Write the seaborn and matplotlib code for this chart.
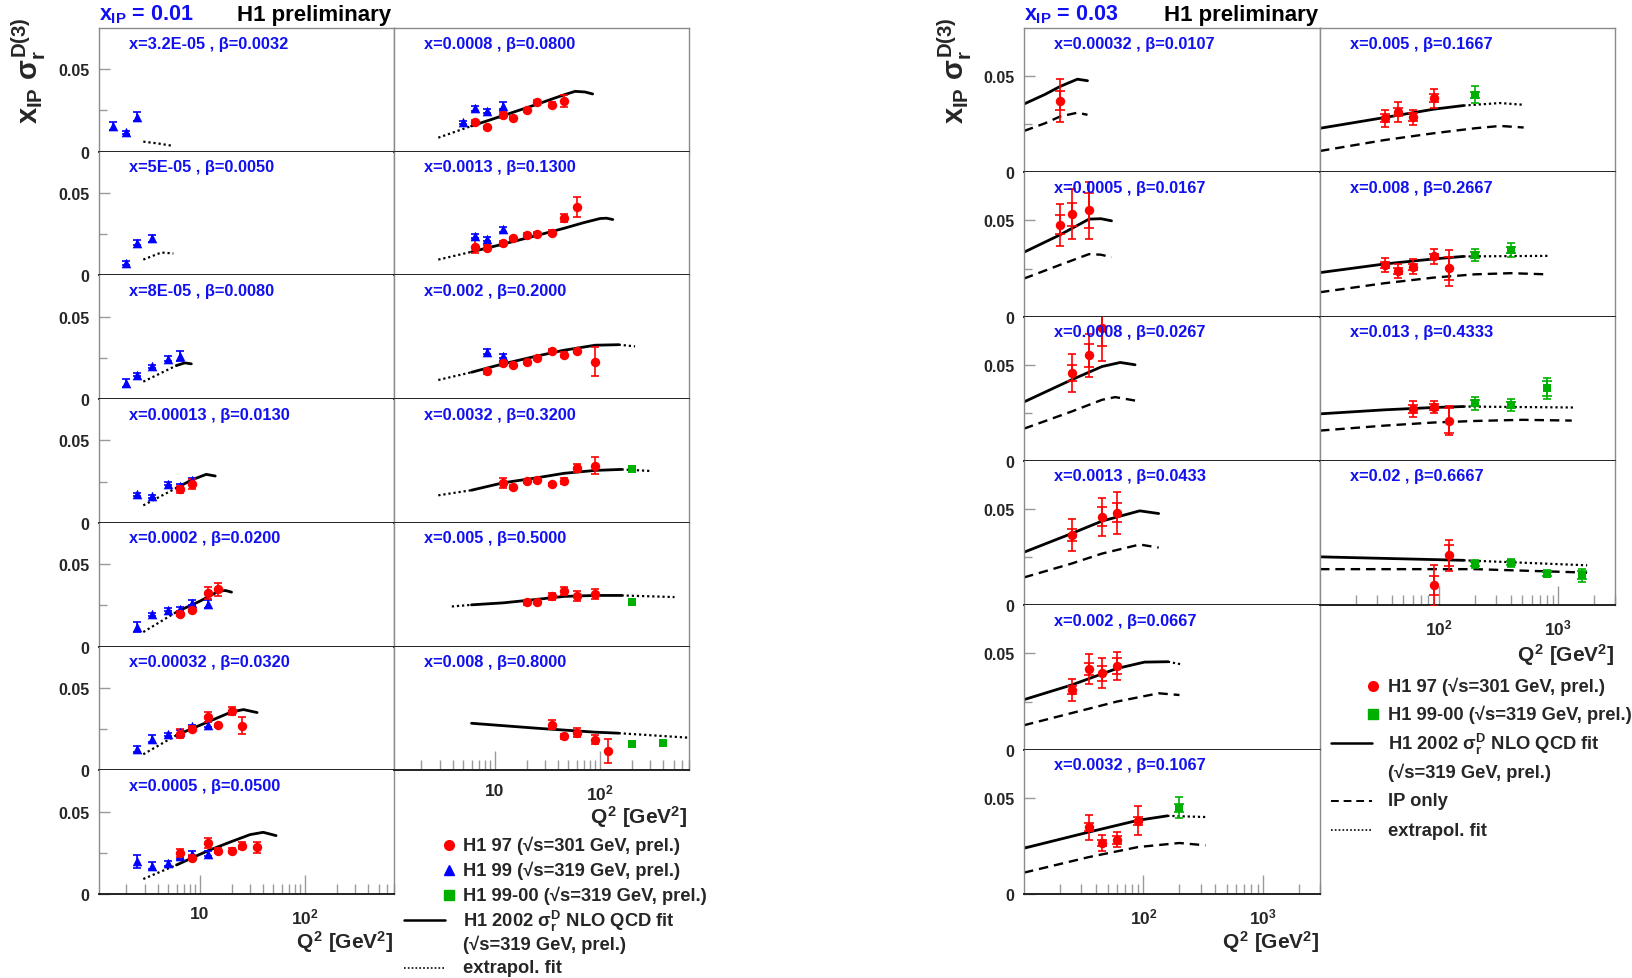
import numpy as np
import pandas as pd
import matplotlib
matplotlib.use("Agg")
import matplotlib.pyplot as plt
from matplotlib.lines import Line2D
from matplotlib.ticker import LogLocator, NullFormatter, NullLocator, FixedLocator
import seaborn as sns

# ---------------- data: left grid, x_IP = 0.01 ----------------
# points: (Q2, value, error) ; curves: (Q2, value)
L1A_LABEL = "x=3.2E-05 , β=0.0032"
L1A_H99 = [(1.5, 0.0156, 0.0025), (2.0, 0.0117, 0.0010), (2.5, 0.0213, 0.0025)]
L1A_EXT = [(2.9, 0.0061), (4.0, 0.0050), (5.6, 0.0035)]

L1B_LABEL = "x=0.0008 , β=0.0800"
L1B_H99 = [(5.0, 0.0178, 0.0010), (6.5, 0.0263, 0.0015), (8.5, 0.0247, 0.0010), (12, 0.0279, 0.0020)]
L1B_H97 = [(6.5, 0.0180, 0.0015), (8.5, 0.0148, 0.0010), (12, 0.0223, 0.0020), (15, 0.0206, 0.0010),
           (20, 0.0253, 0.0010), (25, 0.0302, 0.0010), (35, 0.0285, 0.0015), (45, 0.0308, 0.0035)]
L1B_EXT = [(2.9, 0.0085), (6.0, 0.0156)]
L1B_FIT = [(6.0, 0.0156), (12, 0.0219), (25, 0.0287), (45, 0.0344), (58, 0.0366), (72, 0.0362), (85, 0.0350)]

L2A_LABEL = "x=5E-05 , β=0.0050"
L2A_H99 = [(2.0, 0.0076, 0.0010), (2.5, 0.0198, 0.0015), (3.5, 0.0225, 0.0020)]
L2A_EXT = [(2.9, 0.0096), (4.3, 0.0139), (5.6, 0.0133)]

L2B_LABEL = "x=0.0013 , β=0.1300"
L2B_H99 = [(6.5, 0.0239, 0.0010), (8.5, 0.0220, 0.0010), (12, 0.0280, 0.0015)]
L2B_H97 = [(6.5, 0.0173, 0.0040), (8.5, 0.0169, 0.0015), (12, 0.0194, 0.0015), (15, 0.0224, 0.0010),
           (20, 0.0245, 0.0010), (25, 0.0253, 0.0010), (35, 0.0259, 0.0015), (45, 0.0347, 0.0025),
           (60, 0.0414, 0.0060)]
L2B_EXT = [(2.9, 0.0096), (6.0, 0.0143)]
L2B_FIT = [(6.0, 0.0143), (12, 0.0190), (25, 0.0242), (45, 0.0285), (70, 0.0320), (100, 0.0345),
           (115, 0.0347), (132, 0.0339)]

L3A_LABEL = "x=8E-05 , β=0.0080"
L3A_H99 = [(2.0, 0.0096, 0.0025), (2.5, 0.0149, 0.0010), (3.5, 0.0200, 0.0010), (5.0, 0.0245, 0.0015),
           (6.5, 0.0261, 0.0030)]
L3A_EXT = [(2.9, 0.0106), (6.0, 0.0204)]
L3A_FIT = [(6.0, 0.0204), (7.2, 0.0220), (8.3, 0.0214)]

L3B_LABEL = "x=0.002 , β=0.2000"
L3B_H99 = [(8.5, 0.0286, 0.0015), (12, 0.0261, 0.0010)]
L3B_H97 = [(8.5, 0.0169, 0.0015), (12, 0.0218, 0.0015), (15, 0.0208, 0.0010), (20, 0.0224, 0.0010),
           (25, 0.0249, 0.0010), (35, 0.0292, 0.0010), (45, 0.0269, 0.0015), (60, 0.0292, 0.0015),
           (90, 0.0227, 0.0087)]
L3B_EXT = [(2.9, 0.0116), (6.0, 0.0163)]
L3B_FIT = [(6.0, 0.0163), (12, 0.0214), (25, 0.0261), (45, 0.0296), (90, 0.0327), (150, 0.0330)]
L3B_EXT_HI = [(150, 0.0330), (215, 0.0320)]

L4A_LABEL = "x=0.00013 , β=0.0130"
L4A_H99 = [(2.5, 0.0173, 0.0010), (3.5, 0.0161, 0.0010), (5.0, 0.0237, 0.0010), (6.5, 0.0224, 0.0010),
           (8.5, 0.0259, 0.0015)]
L4A_H97 = [(6.5, 0.0204, 0.0020), (8.5, 0.0235, 0.0030)]
L4A_EXT = [(2.9, 0.0106), (6.0, 0.0212)]
L4A_FIT = [(6.0, 0.0212), (8.5, 0.0262), (11.5, 0.0294), (14, 0.0284)]

L4B_LABEL = "x=0.0032 , β=0.3200"
L4B_H97 = [(12, 0.0243, 0.0030), (15, 0.0218, 0.0010), (20, 0.0253, 0.0010), (25, 0.0257, 0.0010),
           (35, 0.0233, 0.0010), (45, 0.0253, 0.0020), (60, 0.0331, 0.0025), (90, 0.0347, 0.0050)]
L4B_H9900 = [(200, 0.0327, 0.0015)]
L4B_EXT = [(2.9, 0.0167), (6.0, 0.0198)]
L4B_FIT = [(6.0, 0.0198), (12, 0.0243), (25, 0.0273), (45, 0.0300), (90, 0.0318), (160, 0.0324)]
L4B_EXT_HI = [(160, 0.0324), (313, 0.0314)]

L5A_LABEL = "x=0.0002 , β=0.0200"
L5A_H99 = [(2.5, 0.0118, 0.0030), (3.5, 0.0196, 0.0010), (5.0, 0.0224, 0.0010), (6.5, 0.0227, 0.0010),
           (8.5, 0.0265, 0.0015), (12, 0.0259, 0.0025)]
L5A_H97 = [(6.5, 0.0200, 0.0015), (8.5, 0.0222, 0.0015), (12, 0.0324, 0.0035), (15, 0.0347, 0.0040)]
L5A_EXT = [(2.9, 0.0088), (6.0, 0.0210)]
L5A_FIT = [(6.0, 0.0210), (10, 0.0275), (15, 0.0335), (17.5, 0.0340), (20, 0.0330)]

L5B_LABEL = "x=0.005 , β=0.5000"
L5B_H97 = [(20, 0.0269, 0.0015), (25, 0.0269, 0.0010), (35, 0.0304, 0.0020), (45, 0.0335, 0.0025),
           (60, 0.0304, 0.0030), (90, 0.0320, 0.0030)]
L5B_H9900 = [(200, 0.0269, 0.0015)]
L5B_EXT = [(3.9, 0.0243), (6.0, 0.0253)]
L5B_FIT = [(6.0, 0.0253), (12, 0.0265), (25, 0.0286), (45, 0.0304), (90, 0.0310), (160, 0.0310)]
L5B_EXT_HI = [(160, 0.0310), (510, 0.0300)]

L6A_LABEL = "x=0.00032 , β=0.0320"
L6A_H99 = [(2.5, 0.0128, 0.0020), (3.5, 0.0192, 0.0020), (5.0, 0.0219, 0.0010), (6.5, 0.0233, 0.0010),
           (8.5, 0.0267, 0.0010), (12, 0.0277, 0.0015)]
L6A_H97 = [(6.5, 0.0223, 0.0030), (8.5, 0.0253, 0.0015), (12, 0.0324, 0.0030), (15, 0.0273, 0.0010),
           (20, 0.0358, 0.0025), (25, 0.0271, 0.0050)]
L6A_EXT = [(2.9, 0.0097), (6.0, 0.0213)]
L6A_FIT = [(6.0, 0.0213), (12, 0.0294), (20, 0.0354), (26, 0.0368), (35, 0.0350)]

L6B_LABEL = "x=0.008 , β=0.8000"
L6B_H97 = [(35, 0.0277, 0.0025), (45, 0.0206, 0.0015), (60, 0.0229, 0.0025), (90, 0.0186, 0.0025),
           (120, 0.0117, 0.0070)]
L6B_H9900 = [(200, 0.0162, 0.0010), (400, 0.0168, 0.0010)]
L6B_FIT = [(6.0, 0.0285), (25, 0.0255), (90, 0.0231), (150, 0.0225)]
L6B_EXT_HI = [(150, 0.0225), (680, 0.0198)]

L7A_LABEL = "x=0.0005 , β=0.0500"
L7A_H99 = [(2.5, 0.0198, 0.0040), (3.5, 0.0172, 0.0020), (5.0, 0.0186, 0.0015), (6.5, 0.0229, 0.0015),
           (8.5, 0.0243, 0.0015), (12, 0.0243, 0.0015)]
L7A_H97 = [(6.5, 0.0247, 0.0025), (8.5, 0.0219, 0.0015), (12, 0.0310, 0.0030), (15, 0.0263, 0.0015),
           (20, 0.0263, 0.0015), (25, 0.0294, 0.0020), (35, 0.0283, 0.0035)]
L7A_EXT = [(2.9, 0.0091), (6.0, 0.0176)]
L7A_FIT = [(6.0, 0.0176), (12, 0.0263), (20, 0.0318), (30, 0.0360), (40, 0.0374), (53, 0.0354)]

# ---------------- data: right grid, x_IP = 0.03 ----------------
# points: (Q2, value, total error, stat error)
R1A_LABEL = "x=0.00032 , β=0.0107"
R1A_H97 = [(20, 0.0373, 0.0110, 0.0050)]
R1A_FIT = [(10, 0.0355), (15, 0.0405), (20, 0.0446), (28, 0.0484), (34, 0.0476)]
R1A_POM = [(10, 0.0215), (15, 0.0255), (20, 0.0290), (28, 0.0310), (34, 0.0299)]

R1B_LABEL = "x=0.005 , β=0.1667"
R1B_H97 = [(35, 0.0281, 0.0045, 0.0020), (45, 0.0313, 0.0050, 0.0020), (60, 0.0286, 0.0040, 0.0020),
           (90, 0.0385, 0.0050, 0.0020)]
R1B_H9900 = [(200, 0.0403, 0.0045, 0.0015)]
R1B_FIT = [(10, 0.0229), (35, 0.0285), (90, 0.0328), (160, 0.0347)]
R1B_EXT_HI = [(160, 0.0347), (325, 0.0360), (513, 0.0351)]
R1B_POM = [(10, 0.0111), (35, 0.0168), (90, 0.0203), (200, 0.0229), (325, 0.0241), (513, 0.0233)]

R2A_LABEL = "x=0.0005 , β=0.0167"
R2A_H97 = [(20, 0.0477, 0.0110, 0.0050), (25, 0.0533, 0.0130, 0.0060), (35, 0.0552, 0.0150, 0.0090)]
R2A_FIT = [(10, 0.0335), (20, 0.0425), (35, 0.0507), (44, 0.0509), (54, 0.0498)]
R2A_POM = [(10, 0.0198), (20, 0.0269), (35, 0.0325), (44, 0.0322), (54, 0.0309)]

R2B_LABEL = "x=0.008 , β=0.2667"
R2B_H97 = [(35, 0.0269, 0.0035, 0.0015), (45, 0.0238, 0.0035, 0.0015), (60, 0.0260, 0.0040, 0.0015),
           (90, 0.0313, 0.0040, 0.0015), (120, 0.0252, 0.0095, 0.0060)]
R2B_H9900 = [(200, 0.0321, 0.0030, 0.0015), (400, 0.0347, 0.0035, 0.0015)]
R2B_FIT = [(10, 0.0229), (35, 0.0274), (90, 0.0300), (160, 0.0313)]
R2B_EXT_HI = [(160, 0.0313), (815, 0.0316)]
R2B_POM = [(10, 0.0127), (35, 0.0174), (90, 0.0203), (200, 0.0220), (400, 0.0226), (800, 0.0220)]

R3A_LABEL = "x=0.0008 , β=0.0267"
R3A_H97 = [(25, 0.0457, 0.0100, 0.0040), (35, 0.0549, 0.0110, 0.0060), (45, 0.0690, 0.0170, 0.0095)]
R3A_FIT = [(10, 0.0307), (25, 0.0422), (45, 0.0491), (64, 0.0512), (85, 0.0500)]
R3A_POM = [(10, 0.0168), (25, 0.0257), (45, 0.0318), (58, 0.0332), (85, 0.0314)]

R3B_LABEL = "x=0.013 , β=0.4333"
R3B_H97 = [(60, 0.0271, 0.0040, 0.0020), (90, 0.0280, 0.0030, 0.0015), (120, 0.0210, 0.0075, 0.0065)]
R3B_H9900 = [(200, 0.0300, 0.0035, 0.0015), (400, 0.0292, 0.0030, 0.0015), (800, 0.0378, 0.0055, 0.0040)]
R3B_FIT = [(10, 0.0245), (35, 0.0266), (90, 0.0278), (160, 0.0283)]
R3B_EXT_HI = [(160, 0.0283), (1350, 0.0278)]
R3B_POM = [(10, 0.0158), (35, 0.0184), (90, 0.0200), (200, 0.0208), (500, 0.0214), (1300, 0.0210)]

R4A_LABEL = "x=0.0013 , β=0.0433"
R4A_H97 = [(25, 0.0365, 0.0085, 0.0030), (45, 0.0460, 0.0100, 0.0050), (60, 0.0481, 0.0110, 0.0050)]
R4A_FIT = [(10, 0.0276), (25, 0.0373), (45, 0.0438), (93, 0.0491), (134, 0.0477)]
R4A_POM = [(10, 0.0145), (25, 0.0217), (45, 0.0269), (93, 0.0316), (134, 0.0300)]

R4B_LABEL = "x=0.02 , β=0.6667"
R4B_H97 = [(90, 0.0104, 0.0105, 0.0050), (120, 0.0260, 0.0080, 0.0055)]
R4B_H9900 = [(200, 0.0214, 0.0020, 0.0010), (400, 0.0220, 0.0020, 0.0010), (800, 0.0165, 0.0020, 0.0010),
             (1600, 0.0156, 0.0035, 0.0020)]
R4B_FIT = [(10, 0.0252), (160, 0.0234)]
R4B_EXT_HI = [(160, 0.0234), (1750, 0.0208)]
R4B_POM = [(10, 0.0188), (200, 0.0188), (1750, 0.0170)]

R5A_LABEL = "x=0.002 , β=0.0667"
R5A_H97 = [(25, 0.0310, 0.0055, 0.0020), (35, 0.0419, 0.0080, 0.0030), (45, 0.0397, 0.0078, 0.0040),
           (60, 0.0434, 0.0073, 0.0040)]
R5A_FIT = [(10, 0.0260), (25, 0.0336), (60, 0.0422), (102, 0.0455), (160, 0.0457)]
R5A_EXT_HI = [(160, 0.0457), (209, 0.0443)]
R5A_POM = [(10, 0.0127), (25, 0.0190), (60, 0.0250), (134, 0.0293), (200, 0.0284)]

R6A_LABEL = "x=0.0032 , β=0.1067"
R6A_H97 = [(35, 0.0348, 0.0065, 0.0020), (45, 0.0265, 0.0040, 0.0015), (60, 0.0282, 0.0040, 0.0020),
           (90, 0.0380, 0.0075, 0.0020)]
R6A_H9900 = [(200, 0.0448, 0.0055, 0.0020)]
R6A_FIT = [(10, 0.0238), (35, 0.0322), (90, 0.0383), (158, 0.0406)]
R6A_EXT_HI = [(158, 0.0406), (330, 0.0400)]
R6A_POM = [(10, 0.0111), (35, 0.0192), (90, 0.0244), (200, 0.0265), (330, 0.0253)]

LEFT_TICKS = [10, 100]
LEFT_TICKLABELS = ["10", r"$10^{2}$"]
RIGHT_TICKS = [100, 1000]
RIGHT_TICKLABELS = [r"$10^{2}$", r"$10^{3}$"]

LEG_LEFT = ["H1 97 (√s=301 GeV, prel.)", "H1 99 (√s=319 GeV, prel.)", "H1 99-00 (√s=319 GeV, prel.)",
            r"H1 2002 $\sigma_{r}^{D}$ NLO QCD fit", "(√s=319 GeV, prel.)", "extrapol. fit"]
LEG_RIGHT = ["H1 97 (√s=301 GeV, prel.)", "H1 99-00 (√s=319 GeV, prel.)",
             r"H1 2002 $\sigma_{r}^{D}$ NLO QCD fit", "(√s=319 GeV, prel.)", "IP only", "extrapol. fit"]

# ---------------- style ----------------
sns.set_style("ticks")
plt.rcParams["font.family"] = ["Liberation Sans", "DejaVu Sans"]
plt.rcParams["font.weight"] = "bold"
plt.rcParams["mathtext.fontset"] = "custom"
plt.rcParams["mathtext.rm"] = "Liberation Sans:bold"
plt.rcParams["mathtext.it"] = "Liberation Sans:bold"
plt.rcParams["mathtext.bf"] = "Liberation Sans:bold"
plt.rcParams["mathtext.sf"] = "Liberation Sans:bold"

RED = "#ff0000"
BLUE = "#0000ff"
GREEN = "#00b000"
LABEL_BLUE = "#1010f0"
FRAME = "#8a8a8a"
TICKC = "#9a9a9a"

W, H = 1633, 979
fig = plt.figure(figsize=(W / 100, H / 100), dpi=100)


def px_axes(x0, y0, w, h):
    return fig.add_axes([x0 / W, 1 - (y0 + h) / H, w / W, h / H])


def curve(ax, pts, ls, lw):
    if not pts:
        return
    df = pd.DataFrame(pts, columns=["q2", "v"])
    sns.lineplot(data=df, x="q2", y="v", ax=ax, color="black", lw=lw, linestyle=ls,
                 estimator=None, sort=False, zorder=2)


def points(ax, pts, color, marker, size):
    if not pts:
        return
    cols = ["q2", "v", "tot"] if len(pts[0]) == 3 else ["q2", "v", "tot", "stat"]
    df = pd.DataFrame(pts, columns=cols)
    ax.errorbar(df["q2"], df["v"], yerr=df["tot"], fmt="none", ecolor=color, elinewidth=1.2,
                capsize=3, capthick=1.2, zorder=3)
    if "stat" in df:
        ax.errorbar(df["q2"], df["v"], yerr=df["stat"], fmt="none", ecolor=color, elinewidth=1.2,
                    capsize=3.5, capthick=1.2, zorder=3)
    sns.scatterplot(data=df, x="q2", y="v", ax=ax, color=color, marker=marker, s=size,
                    edgecolor=color, linewidth=0, zorder=4)


def style(ax, xlim, show_y, show_x, ticks, ticklabels, top_row):
    ax.set_xscale("log")
    ax.set_xlim(*xlim)
    ax.set_ylim(0, 0.075)
    ax.set_xlabel("")
    ax.set_ylabel("")
    for s in ["left", "right", "top"]:
        ax.spines[s].set_color(FRAME)
        ax.spines[s].set_linewidth(1.0)
    ax.spines["top"].set_visible(top_row)
    ax.spines["bottom"].set_color("#222222")
    ax.spines["bottom"].set_linewidth(1.4)
    if show_y:
        ax.yaxis.set_major_locator(FixedLocator([0, 0.05]))
        ax.set_yticklabels(["0", "0.05"])
        ax.yaxis.set_minor_locator(FixedLocator([0.025]))
        ax.tick_params(axis="y", which="major", direction="in", length=8, width=1, color=TICKC,
                       labelsize=11.5, pad=7)
        ax.tick_params(axis="y", which="minor", direction="in", length=6, width=1, color=TICKC)
    else:
        ax.yaxis.set_major_locator(NullLocator())
        ax.yaxis.set_minor_locator(NullLocator())
    if show_x:
        ax.xaxis.set_major_locator(FixedLocator(ticks))
        ax.set_xticklabels(ticklabels)
        ax.xaxis.set_minor_locator(LogLocator(base=10, subs=np.arange(2, 10)))
        ax.xaxis.set_minor_formatter(NullFormatter())
        ax.tick_params(axis="x", which="major", direction="in", length=14, width=1, color=TICKC,
                       labelsize=12.5, pad=9)
        ax.tick_params(axis="x", which="minor", direction="in", length=7, width=1, color=TICKC)
    else:
        ax.xaxis.set_major_locator(NullLocator())
        ax.xaxis.set_minor_locator(NullLocator())


def panel(x0, y0, w, h, xlim, label, h97=(), h99=(), h9900=(), fit=(), ext_lo=(), ext_hi=(), pom=(),
          show_y=False, show_x=False, ticks=(), ticklabels=(), top_row=False):
    ax = px_axes(x0, y0, w, h)
    curve(ax, list(pom), (0, (4, 2.5)), 1.7)
    curve(ax, list(ext_lo), (0, (1, 1.3)), 1.6)
    curve(ax, list(ext_hi), (0, (1, 1.3)), 1.6)
    curve(ax, list(fit), "-", 2.0)
    points(ax, list(h99), BLUE, "^", 48)
    points(ax, list(h97), RED, "o", 46)
    points(ax, list(h9900), GREEN, "s", 38)
    style(ax, xlim, show_y, show_x, ticks, ticklabels, top_row)
    fig.text((x0 + 30) / W, 1 - (y0 + 15) / H, label, fontsize=11.8, color=LABEL_BLUE,
             ha="left", va="center", fontweight="bold")
    return ax


# ---------------- left grid ----------------
LX0, LX1, LX2 = 99, 394, 689
TOP, BOT = 29, 895
LH = (BOT - TOP) / 7
LW = LX1 - LX0
LXLIM = (1.1, 700)

left_col = [
    dict(label=L1A_LABEL, h99=L1A_H99, ext_lo=L1A_EXT),
    dict(label=L2A_LABEL, h99=L2A_H99, ext_lo=L2A_EXT),
    dict(label=L3A_LABEL, h99=L3A_H99, ext_lo=L3A_EXT, fit=L3A_FIT),
    dict(label=L4A_LABEL, h99=L4A_H99, h97=L4A_H97, ext_lo=L4A_EXT, fit=L4A_FIT),
    dict(label=L5A_LABEL, h99=L5A_H99, h97=L5A_H97, ext_lo=L5A_EXT, fit=L5A_FIT),
    dict(label=L6A_LABEL, h99=L6A_H99, h97=L6A_H97, ext_lo=L6A_EXT, fit=L6A_FIT),
    dict(label=L7A_LABEL, h99=L7A_H99, h97=L7A_H97, ext_lo=L7A_EXT, fit=L7A_FIT),
]
right_col = [
    dict(label=L1B_LABEL, h99=L1B_H99, h97=L1B_H97, ext_lo=L1B_EXT, fit=L1B_FIT),
    dict(label=L2B_LABEL, h99=L2B_H99, h97=L2B_H97, ext_lo=L2B_EXT, fit=L2B_FIT),
    dict(label=L3B_LABEL, h99=L3B_H99, h97=L3B_H97, ext_lo=L3B_EXT, fit=L3B_FIT, ext_hi=L3B_EXT_HI),
    dict(label=L4B_LABEL, h97=L4B_H97, h9900=L4B_H9900, ext_lo=L4B_EXT, fit=L4B_FIT, ext_hi=L4B_EXT_HI),
    dict(label=L5B_LABEL, h97=L5B_H97, h9900=L5B_H9900, ext_lo=L5B_EXT, fit=L5B_FIT, ext_hi=L5B_EXT_HI),
    dict(label=L6B_LABEL, h97=L6B_H97, h9900=L6B_H9900, fit=L6B_FIT, ext_hi=L6B_EXT_HI),
]
for i, p in enumerate(left_col):
    panel(LX0, TOP + i * LH, LW, LH, LXLIM, show_y=True, show_x=(i == len(left_col) - 1),
          ticks=LEFT_TICKS, ticklabels=LEFT_TICKLABELS, top_row=(i == 0), **p)
for i, p in enumerate(right_col):
    panel(LX1, TOP + i * LH, LX2 - LX1, LH, LXLIM, show_y=False, show_x=(i == len(right_col) - 1),
          ticks=LEFT_TICKS, ticklabels=LEFT_TICKLABELS, top_row=(i == 0), **p)

# ---------------- right grid ----------------
RX0, RX1, RX2 = 1024, 1320, 1615
RH = (BOT - TOP) / 6
RXLIM = (10, 3000)
r_left = [
    dict(label=R1A_LABEL, h97=R1A_H97, fit=R1A_FIT, pom=R1A_POM),
    dict(label=R2A_LABEL, h97=R2A_H97, fit=R2A_FIT, pom=R2A_POM),
    dict(label=R3A_LABEL, h97=R3A_H97, fit=R3A_FIT, pom=R3A_POM),
    dict(label=R4A_LABEL, h97=R4A_H97, fit=R4A_FIT, pom=R4A_POM),
    dict(label=R5A_LABEL, h97=R5A_H97, fit=R5A_FIT, pom=R5A_POM, ext_hi=R5A_EXT_HI),
    dict(label=R6A_LABEL, h97=R6A_H97, h9900=R6A_H9900, fit=R6A_FIT, pom=R6A_POM, ext_hi=R6A_EXT_HI),
]
r_right = [
    dict(label=R1B_LABEL, h97=R1B_H97, h9900=R1B_H9900, fit=R1B_FIT, pom=R1B_POM, ext_hi=R1B_EXT_HI),
    dict(label=R2B_LABEL, h97=R2B_H97, h9900=R2B_H9900, fit=R2B_FIT, pom=R2B_POM, ext_hi=R2B_EXT_HI),
    dict(label=R3B_LABEL, h97=R3B_H97, h9900=R3B_H9900, fit=R3B_FIT, pom=R3B_POM, ext_hi=R3B_EXT_HI),
    dict(label=R4B_LABEL, h97=R4B_H97, h9900=R4B_H9900, fit=R4B_FIT, pom=R4B_POM, ext_hi=R4B_EXT_HI),
]
for i, p in enumerate(r_left):
    panel(RX0, TOP + i * RH, RX1 - RX0, RH, RXLIM, show_y=True, show_x=(i == len(r_left) - 1),
          ticks=RIGHT_TICKS, ticklabels=RIGHT_TICKLABELS, top_row=(i == 0), **p)
for i, p in enumerate(r_right):
    panel(RX1, TOP + i * RH, RX2 - RX1, RH, RXLIM, show_y=False, show_x=(i == len(r_right) - 1),
          ticks=RIGHT_TICKS, ticklabels=RIGHT_TICKLABELS, top_row=(i == 0), **p)


# ---------------- titles and labels ----------------
def ftext(x, y, s, **kw):
    fig.text(x / W, 1 - y / H, s, **kw)


ftext(99, 15, r"$x_{IP}$ = 0.01", fontsize=15.5, color=LABEL_BLUE, ha="left", va="center")
ftext(237, 15, "H1 preliminary", fontsize=16, color="black", ha="left", va="center")
ftext(1024, 15, r"$x_{IP}$ = 0.03", fontsize=15.5, color=LABEL_BLUE, ha="left", va="center")
ftext(1164, 15, "H1 preliminary", fontsize=16, color="black", ha="left", va="center")

YLAB = r"$x_{IP}\ \sigma_{r}^{D(3)}$"
ftext(29, 71, YLAB, fontsize=21, rotation=90, ha="center", va="center")
ftext(955, 71, YLAB, fontsize=21, rotation=90, ha="center", va="center")

QLAB = r"$Q^{2}$ [GeV$^{2}$]"
ftext(393, 942, QLAB, fontsize=15, ha="right", va="center")
ftext(687, 817, QLAB, fontsize=15, ha="right", va="center")
ftext(1319, 942, QLAB, fontsize=15, ha="right", va="center")
ftext(1614, 655, QLAB, fontsize=15, ha="right", va="center")


# ---------------- legends ----------------
def legend_key(kind, x_line_end, x_marker, y):
    yy = 1 - y / H
    if kind == "o":
        fig.add_artist(Line2D([x_marker / W], [yy], marker="o", color=RED, ms=7, ls="none"))
    elif kind == "^":
        fig.add_artist(Line2D([x_marker / W], [yy], marker="^", color=BLUE, ms=7, ls="none"))
    elif kind == "s":
        fig.add_artist(Line2D([x_marker / W], [yy], marker="s", color=GREEN, ms=6.5, ls="none"))
    elif kind == "-":
        fig.add_artist(Line2D([(x_line_end - 41) / W, x_line_end / W], [yy, yy], color="black", lw=1.8))
    elif kind == "--":
        fig.add_artist(Line2D([(x_line_end - 41) / W, x_line_end / W], [yy, yy], color="black", lw=1.4,
                              ls=(0, (4, 2.5))))
    elif kind == ":":
        fig.add_artist(Line2D([(x_line_end - 41) / W, x_line_end / W], [yy, yy], color="black", lw=1.2,
                              ls=(0, (1, 1.3))))


left_keys = ["o", "^", "s", "-", None, ":"]
left_rows = [846, 871, 896, 921, 945, 969]
for k, lab, yrow in zip(left_keys, LEG_LEFT, left_rows):
    if k:
        legend_key(k, 445, 449, yrow)
    ftext(463, yrow, lab, fontsize=13.2, ha="left", va="center")

right_keys = ["o", "s", "-", None, "--", ":"]
right_rows = [687, 715, 744, 773, 802, 831]
for k, lab, yrow in zip(right_keys, LEG_RIGHT, right_rows):
    if k:
        legend_key(k, 1372, 1373, yrow)
    ftext(1388, yrow, lab, fontsize=13.2, ha="left", va="center")

fig.savefig("out.png", dpi=100)
